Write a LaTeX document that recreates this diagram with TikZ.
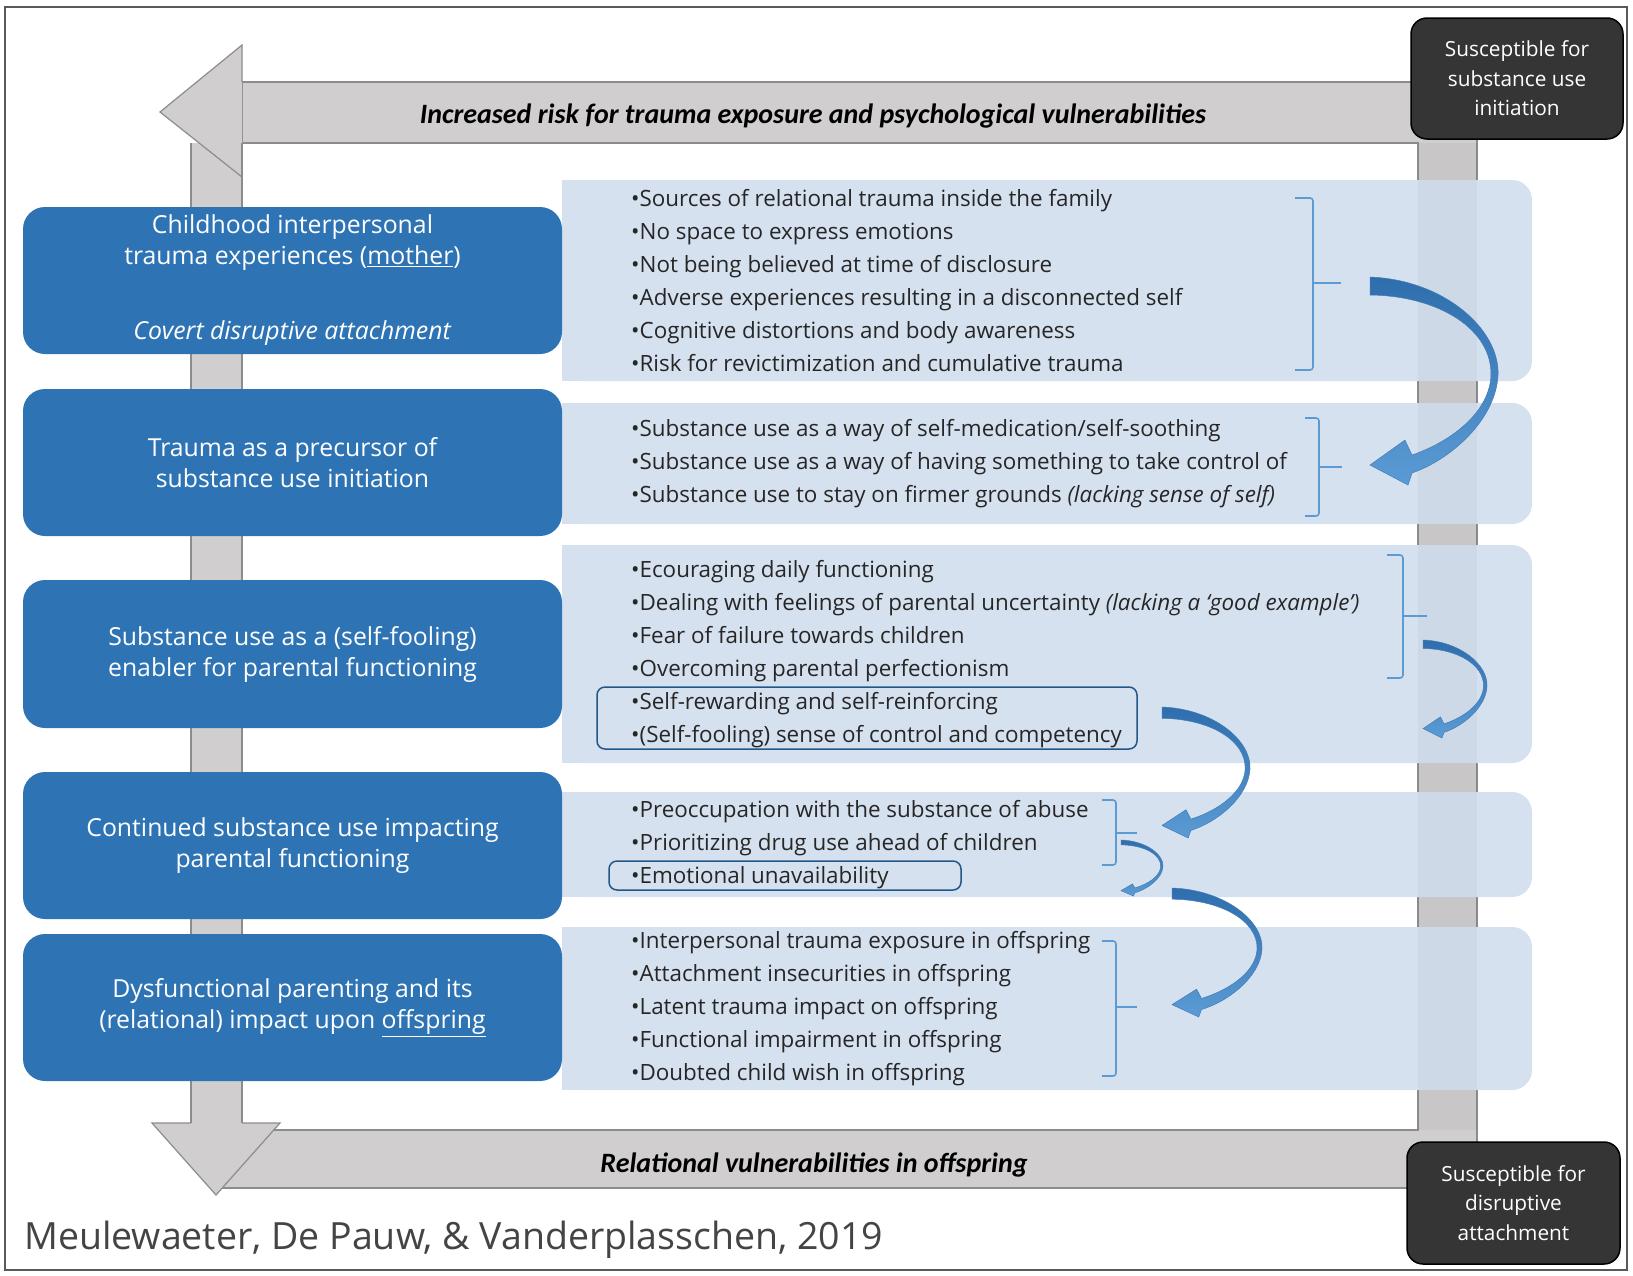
\documentclass[tikz,border=0pt]{standalone}
\usepackage{fontspec}
\setmainfont{Open Sans}
\newfontfamily\calfont{Carlito}
\definecolor{boxblue}{HTML}{2E74B5}
\definecolor{panelblue}{HTML}{D6E1F0}
\definecolor{bargray}{HTML}{D0CECE}
\definecolor{baredge}{HTML}{8C8C8C}
\definecolor{darkbox}{HTML}{353535}
\definecolor{brace}{HTML}{5B9BD5}
\definecolor{arrowtop}{HTML}{2F6EAD}
\definecolor{arrowbot}{HTML}{5B9BD5}
\definecolor{credit}{HTML}{444444}
\tikzset{
  stage/.style={shape=rectangle, rounded corners=22pt, fill=boxblue, text=white, minimum width=539pt, align=center, font=\fontsize{24.8}{31}\selectfont},
  items/.style={anchor=west, align=left, inner sep=0pt, text=black!85, font=\fontsize{22.4}{33}\selectfont},
  dark/.style={shape=rectangle, rounded corners=16pt, fill=darkbox, draw=black, line width=1.5pt, text=white, align=center, minimum width=212pt, minimum height=121pt, font=\fontsize{20.8}{29.5}\selectfont},
  bar/.style={fill=bargray, draw=baredge, line width=1.2pt},
  flowlabel/.style={inner sep=0pt, font=\calfont\bfseries\itshape\fontsize{28}{30}\selectfont},
  bracket/.style={draw=brace, line width=1.6pt, rounded corners=3pt},
  hilite/.style={draw=boxblue!75!black, line width=1.5pt, rounded corners=8pt}
}
\newcommand\panelbg[4]{%
  \fill[panelblue, rounded corners=20pt] (#1,#2) rectangle (#3,#4);
  \fill[panelblue] (#1,#2) rectangle (#1+100,#4);}
\newcommand\brk[6]{%
  \draw[bracket] (#1,#3) -- (#2,#3) -- (#2,#4) -- (#1,#4);
  \draw[bracket] (#2,#5) -- (#6,#5);}
\newcommand\bendarrow[4]{%
  \begin{scope}[shift={(#1,#2)}, xscale=#3, yscale=#4]
    \shadedraw[top color=arrowtop, bottom color=arrowbot, draw=arrowtop!90, line width=0.5pt]
      (0,0) .. controls (0.586,0.014) and (1.016,0.255) .. (1.0,0.471)
      .. controls (0.984,0.6875) and (0.625,0.88) .. (0.328,0.942)
      -- (0.297,1.0) -- (0,0.904) -- (0.273,0.784) -- (0.328,0.856)
      .. controls (0.664,0.784) and (0.9375,0.639) .. (0.945,0.471)
      .. controls (0.953,0.255) and (0.547,0.091) .. (0,0.0865) -- cycle;
  \end{scope}}
\begin{document}
\begin{tikzpicture}[x=1pt, y=-1pt]
\useasboundingbox (0,0) rectangle (1633,1275);
\fill[white] (0,0) rectangle (1633,1275);
\filldraw[bar] (242,82) -- (1477,82) -- (1477,1188) -- (216,1188) -- (216,1130) -- (1418,1130) -- (1418,143) -- (242,143) -- cycle;
\fill[bargray] (191,143) rectangle (242,1123);
\filldraw[bar] (242,82) -- (242,45) -- (160,112) -- (242,177) -- (242,143);
\draw[baredge, line width=1.2pt] (191,143) -- (191,1123) (242,143) -- (242,1123);
\filldraw[bar] (191,1123) -- (152,1123) -- (216,1195) -- (280,1123) -- (242,1123);
\panelbg{562}{180}{1532}{381}
\panelbg{562}{403}{1532}{524}
\panelbg{562}{545}{1532}{763}
\panelbg{562}{792}{1532}{897}
\panelbg{562}{927}{1532}{1090}
\fill[black, opacity=.035] (1418,143) rectangle (1477,1130);
\node[stage, minimum height=147pt] (b1) at (292.5,280.5) {Childhood interpersonal\\trauma experiences (\underline{mother})\\[44pt]\textit{Covert disruptive attachment}};
\node[stage, minimum height=147pt] (b2) at (292.5,462.5) {Trauma as a precursor of\\substance use initiation};
\node[stage, minimum height=148pt] (b3) at (292.5,654) {Substance use as a (self-fooling)\\enabler for parental functioning};
\node[stage, minimum height=147pt] (b4) at (292.5,845.5) {Continued substance use impacting\\parental functioning};
\node[stage, minimum height=147pt] (b5) at (292.5,1007.5) {Dysfunctional parenting and its\\(relational) impact upon \underline{offspring}};
\node[items] (l1) at (631,280.5) {•Sources of relational trauma inside the family\\•No space to express emotions\\•Not being believed at time of disclosure\\•Adverse experiences resulting in a disconnected self\\•Cognitive distortions and body awareness\\•Risk for revictimization and cumulative trauma};
\node[items] (l2) at (631,464) {•Substance use as a way of self-medication/self-soothing\\•Substance use as a way of having something to take control of\\•Substance use to stay on firmer grounds \textit{(lacking sense of self)}};
\node[items] (l3) at (631,654) {•Ecouraging daily functioning\\•Dealing with feelings of parental uncertainty \textit{(lacking a ‘good example’)}\\•Fear of failure towards children\\•Overcoming parental perfectionism\\•Self-rewarding and self-reinforcing\\•(Self-fooling) sense of control and competency};
\node[items] (l4) at (631,844.5) {•Preoccupation with the substance of abuse\\•Prioritizing drug use ahead of children\\•Emotional unavailability};
\node[items] (l5) at (631,1008.5) {•Interpersonal trauma exposure in offspring\\•Attachment insecurities in offspring\\•Latent trauma impact on offspring\\•Functional impairment in offspring\\•Doubted child wish in offspring};
\draw[hilite] (597,687) rectangle (1137,749);
\draw[hilite] (609,861) rectangle (961,890);
\brk{1295}{1313}{198}{370}{283}{1341}
\brk{1305}{1319}{418}{516}{467}{1342}
\brk{1387}{1403}{555}{678}{616}{1427}
\brk{1102}{1116}{800}{865}{833}{1137}
\brk{1102}{1116}{941}{1076}{1007}{1137}
\bendarrow{1370}{277}{128}{208}
\bendarrow{1423}{640}{64}{98}
\bendarrow{1162}{707}{88}{131}
\bendarrow{1121}{840}{42}{56}
\bendarrow{1172}{888}{90}{129}
\node[flowlabel] (risk) at (813,116) {Increased risk for trauma exposure and psychological vulnerabilities};
\node[flowlabel] (offs) at (814,1165) {Relational vulnerabilities in offspring};
\node[dark] (s1) at (1517,78.5) {Susceptible for\\substance use\\initiation};
\node[dark, minimum width=213pt, minimum height=122pt] (s2) at (1513.5,1203) {Susceptible for\\disruptive\\attachment};
\node[anchor=west, inner sep=0pt, text=credit, font=\fontsize{37.5}{40}\selectfont] (cite) at (24,1240) {Meulewaeter, De Pauw, \& Vanderplasschen, 2019};
\draw[black!65, line width=2pt] (5,7) rectangle (1627,1270);
\end{tikzpicture}
\end{document}
